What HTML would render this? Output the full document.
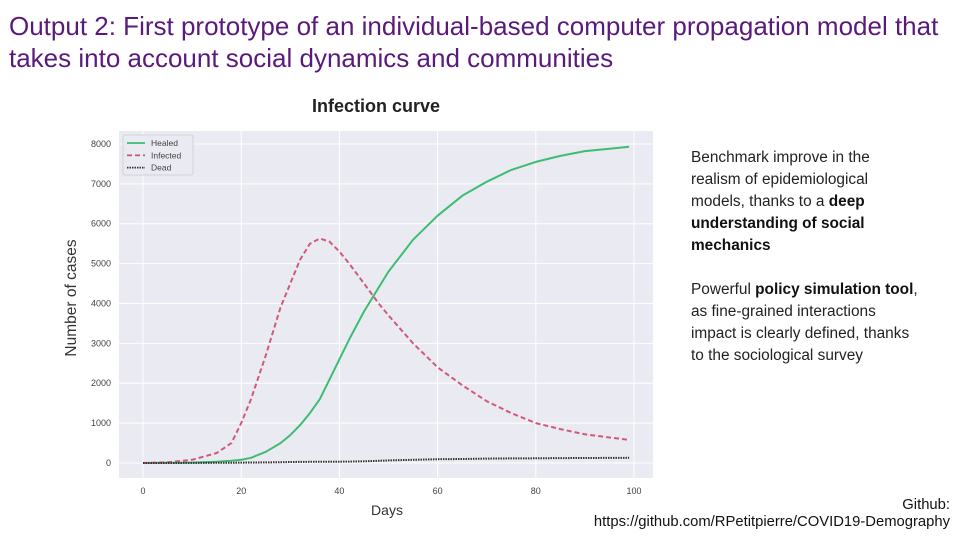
<!DOCTYPE html>
<html><head><meta charset="utf-8"><style>
body{margin:0;width:960px;height:540px;background:#fff;position:relative;overflow:hidden;font-family:"Liberation Sans",sans-serif;}
.t{position:absolute;white-space:nowrap;}
#title{left:9px;top:10px;font-size:26px;line-height:32px;color:#5a1a7c;}
#side{left:691px;top:147px;font-size:15.4px;line-height:22px;color:#222;}
#side b{color:#111}
#gh{right:10px;top:497px;font-size:14.8px;line-height:17px;color:#111;text-align:right;}
</style></head><body>
<div class="t" id="title">Output 2: First prototype of an individual-based computer propagation model that<br>takes into account social dynamics and communities</div>
<div class="t" id="side">Benchmark improve in the<br>realism of epidemiological<br>models, thanks to a <b>deep</b><br><b>understanding of social</b><br><b>mechanics</b><br><br>Powerful <b>policy simulation tool</b>,<br>as fine-grained interactions<br>impact is clearly defined, thanks<br>to the sociological survey</div>
<div class="t" id="gh">Github:<br>https://github.com/RPetitpierre/COVID19-Demography</div>
<svg id="chart" width="960" height="540" style="position:absolute;left:0;top:0"></svg>
<script>
const days=[0,5,10,15,18,20,22,25,28,30,32,34,36,38,40,42,45,48,50,55,60,65,70,75,80,85,90,95,99];
const infected=[0,20,80,250,500,1000,1600,2700,3900,4500,5100,5500,5630,5550,5300,5000,4500,4000,3700,3000,2400,1950,1550,1250,1000,850,720,640,580];
const healed=[0,5,10,30,55,80,130,280,500,700,950,1250,1600,2100,2600,3100,3800,4400,4800,5600,6200,6700,7050,7350,7550,7700,7820,7880,7930];
const dead=[0,0,2,4,6,10,12,15,20,24,27,29,30,30,32,36,42,55,65,80,95,100,110,115,118,122,126,128,130];
const xTicks=[0,20,40,60,80,100];
const yTicks=[0,1000,2000,3000,4000,5000,6000,7000,8000];
const NS='http://www.w3.org/2000/svg';
const svg=document.getElementById('chart');
const L=119,R=653,T=131,B=478;
const xs=d=>143+d*4.91;
const ys=v=>463-v*0.03988;
function el(tag,at,parent){const e=document.createElementNS(NS,tag);for(const k in at)e.setAttribute(k,at[k]);(parent||svg).appendChild(e);return e;}
const bg=el('rect',{x:L,y:T,width:R-L,height:B-T,fill:'#eaeaf2'});


xTicks.forEach(t=>{
 const g=el('line',{x1:xs(t),x2:xs(t),y1:T,y2:B,stroke:'#fff','stroke-width':1});
 
 
 const tx=el('text',{x:xs(t),y:494,'font-size':9,fill:'#444','text-anchor':'middle','font-family':'Liberation Sans'});
 tx.textContent=t;
 
 
});
yTicks.forEach(t=>{
 const g=el('line',{x1:L,x2:R,y1:ys(t),y2:ys(t),stroke:'#fff','stroke-width':1});
 
 
 const tx=el('text',{x:111,y:ys(t)+3,'font-size':9,fill:'#444','text-anchor':'end','font-family':'Liberation Sans'});
 tx.textContent=t;
 
 
});
function line(vals,color,dash,w,name){
 const d=days.map((x,i)=>(i?'L':'M')+xs(x).toFixed(1)+','+ys(vals[i]).toFixed(1)).join('');
 const p=el('path',{d:d,fill:'none',stroke:color,'stroke-width':w,'stroke-dasharray':dash,'stroke-linejoin':'round'});
 
 
}
line(healed,'#3dbd72','none',2,'healed-line');
line(infected,'#d05a78','5,3',2,'infected-line');
line(dead,'#333','1.5,1',2,'dead-line');
const lg=el('rect',{x:123,y:135,width:70,height:40,fill:'#eaeaf2',stroke:'#ccc','stroke-width':0.8,rx:2});


[['Healed','#3dbd72','none'],['Infected','#d05a78','5,3'],['Dead','#333','1.5,1']].forEach((s,i)=>{
 const y=143+i*12.3;
 const ln=el('line',{x1:127,x2:145,y1:y,y2:y,stroke:s[1],'stroke-width':1.8,'stroke-dasharray':s[2]});
 
 
 const tx=el('text',{x:151,y:y+3,'font-size':8.5,fill:'#444','font-family':'Liberation Sans'});
 tx.textContent=s[0];
 
 
});
const ct=el('text',{x:376,y:112,'font-size':18,'font-weight':'bold',fill:'#222','text-anchor':'middle','font-family':'Liberation Sans'});
ct.textContent='Infection curve';


const xt=el('text',{x:387,y:515,'font-size':14,fill:'#333','text-anchor':'middle','font-family':'Liberation Sans'});
xt.textContent='Days';


const yt=el('text',{x:0,y:0,'font-size':15.5,fill:'#333','text-anchor':'middle','font-family':'Liberation Sans',transform:'translate(76,298) rotate(-90)'});
yt.textContent='Number of cases';


</script>
</body></html>
